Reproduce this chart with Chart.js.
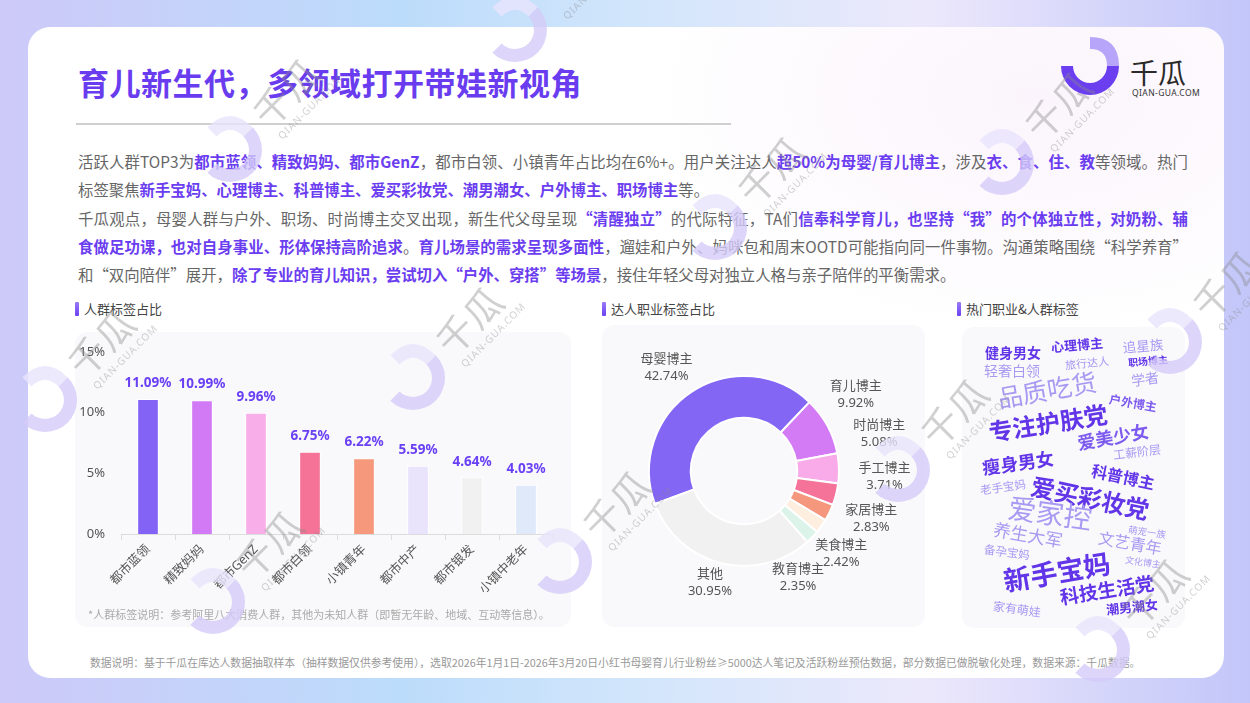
<!DOCTYPE html>
<html lang="zh-CN">
<head>
<meta charset="utf-8">
<title>育儿新生代，多领域打开带娃新视角</title>
<script src="https://cdn.jsdelivr.net/npm/chart.js@4.4.1/dist/chart.umd.min.js"></script>
<style>
  * { box-sizing: border-box; margin: 0; padding: 0; }
  html, body { width: 1250px; height: 703px; overflow: hidden; }
  body {
    position: relative;
    font-family: "Noto Sans CJK SC", "Noto Sans", sans-serif;
    background: linear-gradient(90deg, #cdc9f8 0%, #bcdcfb 32%, #d3e6fb 52%, #ece8fb 74%, #c2c6f9 100%);
  }
  .card {
    position: absolute; left: 28px; top: 27px; width: 1196px; height: 651px;
    border-radius: 22px;
    background: radial-gradient(ellipse 520px 320px at 1010px 70px, #fbf4fc 0%, rgba(255,255,255,0) 75%), #fff;
  }
  .title {
    position: absolute; left: 78px; top: 62px; line-height: 40px;
    font-size: 31px; font-weight: 700; color: #6a3cf0; letter-spacing: 0.5px;
  }
  .rule { position: absolute; left: 76px; top: 123px; width: 655px; height: 2px; background: #cfcfcf; }
  .para { position: absolute; left: 78px; top: 147px; width: 1110px; font-size: 15.4px; color: #666; }
  .para div { height: 28.3px; line-height: 28.3px; white-space: nowrap; }
  .para div.j { text-align: justify; text-align-last: justify; }
  .para b { color: #6b3df0; font-weight: 700; }
  .sec { position: absolute; top: 300px; height: 18px; line-height: 18px; font-size: 13px; color: #444; padding-left: 9px; }
  .sec::before { content: ""; position: absolute; left: 0; top: 2px; width: 4px; height: 14px; border-radius: 1px; background: linear-gradient(180deg, #9a7cf8, #6a40f0); }
  .panel { position: absolute; background: #f9f9fb; border-radius: 12px; }
  canvas { position: absolute; }
  .note { position: absolute; left: 88px; top: 606px; font-size: 11px; color: #aaa; white-space: nowrap; }
  .foot { position: absolute; left: 90px; top: 654px; font-size: 10.8px; color: #999; white-space: nowrap; }
  svg.layer { position: absolute; left: 0; top: 0; pointer-events: none; }
</style>
</head>
<body>
<div class="card"></div>

<svg class="layer" width="1250" height="703" style="z-index:0">
  <g transform="translate(1090,66)">
    <path d="M -29 0 A 29 29 0 0 0 29 0 L 17 0 A 17 17 0 0 1 -17 0 Z" fill="#6b3ef0"/>
    <path d="M 17 0 L 29 0 Q 29 -29 0 -29 L 0 -17 Q 17 -17 17 0 Z" fill="#b6a5f8"/>
  </g>
  <text x="1130" y="84" font-size="28" fill="#2a2a2a" font-family="Noto Sans CJK SC">千瓜</text>
  <text x="1132" y="96" font-size="8.5" fill="#333" font-family="Noto Sans" letter-spacing="0.4">QIAN-GUA.COM</text>
</svg>

<div class="title">育儿新生代，多领域打开带娃新视角</div>
<div class="rule"></div>

<div class="para">
  <div class="j">活跃人群TOP3为<b>都市蓝领、精致妈妈、都市GenZ</b>，都市白领、小镇青年占比均在6%+。用户关注达人<b>超50%为母婴/育儿博主</b>，涉及<b>衣、食、住、教</b>等领域。热门</div>
  <div>标签聚焦<b>新手宝妈、心理博主、科普博主、爱买彩妆党、潮男潮女、户外博主、职场博主</b>等。</div>
  <div class="j">千瓜观点，母婴人群与户外、职场、时尚博主交叉出现，新生代父母呈现<b>“清醒独立”</b>的代际特征，TA们<b>信奉科学育儿，也坚持“我”的个体独立性，对奶粉、辅</b></div>
  <div class="j"><b>食做足功课，也对自身事业、形体保持高阶追求</b>。<b>育儿场景的需求呈现多面性</b>，遛娃和户外、妈咪包和周末OOTD可能指向同一件事物。沟通策略围绕“科学养育”</div>
  <div>和“双向陪伴”展开，<b>除了专业的育儿知识，尝试切入“户外、穿搭”等场景</b>，接住年轻父母对独立人格与亲子陪伴的平衡需求。</div>
</div>

<div class="sec" style="left:75px">人群标签占比</div>
<div class="sec" style="left:602px">达人职业标签占比</div>
<div class="sec" style="left:957px">热门职业&amp;人群标签</div>

<div class="panel" style="left:75px;top:332px;width:496px;height:295px"></div>
<div class="panel" style="left:602px;top:325px;width:323px;height:302px"></div>
<div class="panel" style="left:962px;top:327px;width:223px;height:301px"></div>

<canvas id="crowdBar" width="496" height="295" style="left:75px;top:332px"></canvas>
<canvas id="jobDonut" width="323" height="302" style="left:602px;top:325px"></canvas>
<canvas id="tagCloud" width="223" height="301" style="left:962px;top:327px"></canvas>

<div class="note">*人群标签说明：参考阿里八大消费人群，其他为未知人群（即暂无年龄、地域、互动等信息）。</div>
<div class="foot">数据说明：基于千瓜在库达人数据抽取样本（抽样数据仅供参考使用），选取2026年1月1日-2026年3月20日小红书母婴育儿行业粉丝≥5000达人笔记及活跃粉丝预估数据，部分数据已做脱敏化处理，数据来源：千瓜数据。</div>

<svg class="layer" id="marks" width="1250" height="703" style="z-index:5"></svg>

<script>
// ---- data ----
const crowdLabels = ['都市蓝领', '精致妈妈', '都市GenZ', '都市白领', '小镇青年', '都市中产', '都市银发', '小镇中老年'];
const crowdShare = [11.09, 10.99, 9.96, 6.75, 6.22, 5.59, 4.64, 4.03];
const crowdTicks = [0, 5, 10, 15];

const jobLabels = ['母婴博主', '育儿博主', '时尚博主', '手工博主', '家居博主', '美食博主', '教育博主', '其他'];
const jobShare = [42.74, 9.92, 5.08, 3.71, 2.83, 2.42, 2.35, 30.95];

const tagWords = ['健身男女', '心理博主', '追星族', '旅行达人', '轻奢白领', '职场博主', '学者', '品质吃货',
  '户外博主', '专注护肤党', '爱美少女', '工薪阶层', '瘦身男女', '科普博主', '老手宝妈', '爱买彩妆党',
  '爱家控', '萌宠一族', '养生大军', '文艺青年', '备孕宝妈', '文化博主', '新手宝妈', '科技生活党',
  '家有萌娃', '潮男潮女'];
const tagHeat = [14, 13, 13.5, 11, 14, 10, 14, 25, 12, 24, 18, 12, 18, 16, 11.5, 24, 28, 9.5, 17.5, 16, 11.5, 9, 27, 19, 12, 13];

// ---- layout / style (not data) ----
const crowdColors = ['#8263f5', '#d27af5', '#f8aee8', '#f57397', '#f5987b', '#e9e4fc', '#f1f1f1', '#dfe9fa'];
const jobColors = ['#8466f4', '#d37af5', '#f8abe8', '#f57399', '#f5977c', '#fdeedf', '#dcf3ea', '#f1f1f1'];
// word cloud spots (panel px)
const tagSpotX = [51, 115, 181, 125, 50, 186, 183, 85, 171, 86, 151, 175, 56, 161, 41, 128, 88, 185, 66, 168, 45, 181, 95, 145, 55, 170];
const tagSpotY = [26, 18, 19, 36, 44, 34, 52, 63, 76, 96, 110, 125, 136, 150, 160, 171, 186, 205, 208, 216, 225, 235, 245, 263, 282, 280];
const tagTilt = [0, -5, -5, -6, 0, -5, -8, -10, 10, -9, -10, -7, -8, 12, -8, 12, 8, 8, 10, 10, 8, 8, -10, -9, 8, -6];
const tagTone = [2, 2, 0, 0, 0, 2, 0, 0, 1, 2, 1, 0, 2, 2, 0, 2, 0, 0, 0, 0, 0, 0, 2, 2, 0, 2];
const toneColors = ['#a89af3', '#7d5bef', '#6236e8'];

const watermarkSpots = [[230, 150], [515, 30], [715, 228], [1002, 163], [413, 378], [45, 400], [213, 602],
  [560, 562], [898, 470], [1170, 342], [1098, 650]];

Chart.defaults.font.family = '"Noto Sans", "Noto Sans CJK SC", sans-serif';
Chart.defaults.color = '#555';

// value labels above bars
const barValueLabels = {
  id: 'barValueLabels',
  afterDatasetsDraw(chart) {
    const { ctx } = chart;
    const meta = chart.getDatasetMeta(0);
    ctx.save();
    ctx.font = '700 13.5px "Noto Sans", sans-serif';
    ctx.fillStyle = '#6a40f5';
    ctx.textAlign = 'center';
    ctx.textBaseline = 'middle';
    meta.data.forEach((bar, i) => {
      ctx.fillText(crowdShare[i].toFixed(2) + '%', bar.x, bar.y - 16);
    });
    ctx.restore();
  }
};

new Chart(document.getElementById('crowdBar'), {
  type: 'bar',
  data: {
    labels: crowdLabels,
    datasets: [{
      data: crowdShare,
      backgroundColor: crowdColors,
      borderColor: 'rgba(255,255,255,0.9)',
      borderWidth: 1,
      barThickness: 21
    }]
  },
  options: {
    responsive: false,
    animation: false,
    events: [],
    layout: { padding: { top: 20, right: 18, left: 0, bottom: 0 } },
    plugins: { legend: { display: false }, tooltip: { enabled: false } },
    scales: {
      y: {
        min: crowdTicks[0],
        max: crowdTicks[crowdTicks.length - 1],
        afterBuildTicks: s => { s.ticks = crowdTicks.map(v => ({ value: v })); },
        ticks: { callback: v => v + '%', font: { size: 13 }, color: '#555', padding: 8 },
        grid: { display: false },
        border: { display: false },
        afterFit: s => { s.width = 46; }
      },
      x: {
        grid: { display: true, drawOnChartArea: false, tickLength: 6, color: '#dcdcdc', offset: true },
        border: { display: true, color: '#dcdcdc' },
        ticks: { maxRotation: 45, minRotation: 45, font: { size: 12.5 }, color: '#555', padding: 2 },
        afterFit: s => { s.height = 93; }
      }
    }
  },
  plugins: [barValueLabels]
});

// outside labels for the doughnut, spread apart when slices are thin
const donutLabels = {
  id: 'donutLabels',
  afterDatasetsDraw(chart) {
    const { ctx } = chart;
    const arcs = chart.getDatasetMeta(0).data;
    const cx = arcs[0].x, cy = arcs[0].y, r = arcs[0].outerRadius;
    const angles = arcs.map(a => (a.startAngle + a.endAngle) / 2);
    const gap = 21 * Math.PI / 180;
    for (let k = 0; k < 200; k++) {
      for (let j = 0; j < angles.length - 1; j++) {
        const d = angles[j + 1] - angles[j];
        if (d < gap) {
          const s = (gap - d) / 2;
          angles[j] -= s;
          angles[j + 1] += s;
        }
      }
    }
    ctx.save();
    ctx.font = '13px "Noto Sans", "Noto Sans CJK SC", sans-serif';
    ctx.fillStyle = '#555';
    ctx.textAlign = 'center';
    ctx.textBaseline = 'middle';
    angles.forEach((t, i) => {
      const x = cx + (r + 46) * Math.cos(t);
      const y = cy + (r + 24) * Math.sin(t) - 4;
      ctx.fillText(jobLabels[i], x, y - 8);
      ctx.fillText(jobShare[i].toFixed(2) + '%', x, y + 9);
    });
    ctx.restore();
  }
};

new Chart(document.getElementById('jobDonut'), {
  type: 'doughnut',
  data: {
    labels: jobLabels,
    datasets: [{
      data: jobShare,
      backgroundColor: jobColors,
      borderColor: '#ffffff',
      borderWidth: 2
    }]
  },
  options: {
    responsive: false,
    animation: false,
    events: [],
    rotation: -110.3,
    cutout: '56%',
    layout: { padding: { left: 46, right: 85, top: 50, bottom: 60 } },
    plugins: { legend: { display: false }, tooltip: { enabled: false } }
  },
  plugins: [donutLabels]
});

// word cloud as a label scatter
const tagText = {
  id: 'tagText',
  afterDatasetsDraw(chart) {
    const { ctx } = chart;
    const pts = chart.getDatasetMeta(0).data;
    ctx.save();
    ctx.textAlign = 'center';
    ctx.textBaseline = 'middle';
    pts.forEach((p, i) => {
      const tone = tagTone[i];
      ctx.save();
      ctx.translate(p.x, p.y);
      ctx.rotate(tagTilt[i] * Math.PI / 180);
      ctx.font = (tone === 0 ? '400 ' : '700 ') + tagHeat[i] + 'px "Noto Sans CJK SC", sans-serif';
      ctx.fillStyle = toneColors[tone];
      ctx.fillText(tagWords[i], 0, 0);
      ctx.restore();
    });
    ctx.restore();
  }
};

new Chart(document.getElementById('tagCloud'), {
  type: 'scatter',
  data: {
    datasets: [{
      data: tagWords.map((w, i) => ({ x: tagSpotX[i], y: tagSpotY[i] })),
      pointRadius: 0
    }]
  },
  options: {
    responsive: false,
    animation: false,
    events: [],
    layout: { padding: 0 },
    plugins: { legend: { display: false }, tooltip: { enabled: false } },
    scales: {
      x: { type: 'linear', min: 0, max: 223, display: false },
      y: { type: 'linear', min: 0, max: 301, reverse: true, display: false }
    }
  },
  plugins: [tagText]
});

// watermarks
const ns = 'http://www.w3.org/2000/svg';
const marks = document.getElementById('marks');
watermarkSpots.forEach(([x, y]) => {
  const g = document.createElementNS(ns, 'g');
  g.setAttribute('transform', `translate(${x},${y}) rotate(-45)`);
  g.innerHTML =
    '<path d="M -32 0 A 32 32 0 0 0 32 0 L 19 0 A 19 19 0 0 1 -19 0 Z" fill="#d4cbf9" fill-opacity="0.8"/>' +
    '<path d="M 19 0 L 32 0 Q 32 -32 0 -32 L 0 -19 Q 19 -19 19 0 Z" fill="#e9e4fc" fill-opacity="0.8"/>' +
    '<text x="42" y="14" font-size="38" fill="#8a8a8a" fill-opacity="0.4" font-family="Noto Sans CJK SC">千瓜</text>' +
    '<text x="44" y="30" font-size="10" fill="#8a8a8a" fill-opacity="0.4" font-family="Noto Sans" letter-spacing="1">QIAN-GUA.COM</text>';
  marks.appendChild(g);
});
</script>
</body>
</html>
